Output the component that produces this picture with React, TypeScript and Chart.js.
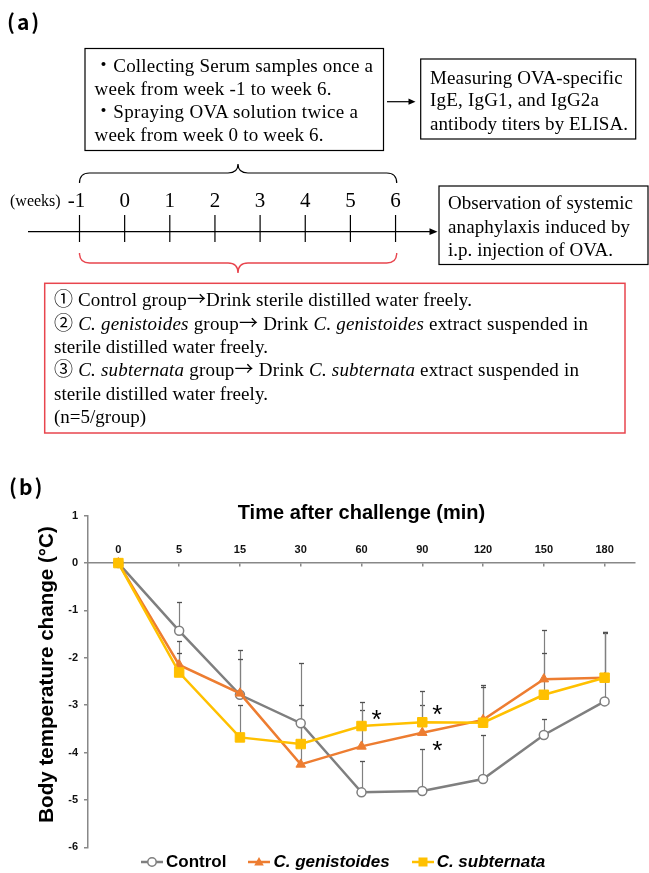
import React, { useEffect, useRef } from 'react';
import { Chart, registerables } from 'chart.js';

Chart.register(...registerables);

// ---------- data (panel b) ----------
const timeLabels = ['0', '5', '15', '30', '60', '90', '120', '150', '180'];
const seriesNames = ['Control', 'C. genistoides', 'C. subternata'];
const controlValues = [0, -1.43, -2.78, -3.38, -4.84, -4.81, -4.56, -3.63, -2.92];
const controlErrors = [0, 0.6, 0.95, 1.27, 0.67, 0.89, 0.94, 0.34, 1.44];
const genistoidesValues = [0, -2.15, -2.75, -4.25, -3.87, -3.58, -3.31, -2.45, -2.42];
const genistoidesErrors = [0, 0.51, 0.73, 1.25, 0.76, 0.59, 0.73, 1.03, 0.96];
const subternataValues = [0, -2.31, -3.68, -3.82, -3.44, -3.36, -3.37, -2.78, -2.42];
const subternataErrors = [0, 0.41, 0.68, 0.4, 0.51, 0.65, 0.75, 0.88, 0.97];
const asteriskIndex = [4, 5, 5];
const asteriskValue = [-3.2, -3.11, -3.86];
const xTitle = 'Time after challenge (min)';
const yTitle = 'Body temperature change (°C)';

// ---------- data (panel a) ----------
const weekLabels = ['-1', '0', '1', '2', '3', '4', '5', '6'];

const colors = ['#7F7F7F', '#ED7D31', '#FFC000'];
const SERIF = "'Liberation Serif', 'Times New Roman', serif";
const CJK = "'Noto Sans CJK JP', sans-serif";
const SANS = "'Liberation Sans', Arial, sans-serif";

const annotPlugin = {
  id: 'annot',
  beforeDatasetsDraw(chart: any) {
    const { ctx, scales } = chart;
    const x = scales.x;
    const y = scales.y;
    ctx.save();
    chart.data.datasets.forEach((ds: any) => {
      const errs: number[] = ds.errors;
      ds.data.forEach((v: number, i: number) => {
        const e = errs[i];
        if (!e) return;
        const px = Math.round(x.getPixelForValue(i)) + 0.5;
        const y0 = y.getPixelForValue(v);
        const y1 = Math.round(y.getPixelForValue(v + e)) + 0.5;
        ctx.strokeStyle = '#808080';
        ctx.lineWidth = 1.2;
        ctx.beginPath();
        ctx.moveTo(px, y0);
        ctx.lineTo(px, y1);
        ctx.stroke();
        ctx.strokeStyle = '#505050';
        ctx.lineWidth = 1.3;
        ctx.beginPath();
        ctx.moveTo(px - 2.5, y1);
        ctx.lineTo(px + 2.5, y1);
        ctx.stroke();
      });
    });
    ctx.restore();
  },
  afterDraw(chart: any) {
    const { ctx, chartArea, scales } = chart;
    const x = scales.x;
    const y = scales.y;
    ctx.save();
    ctx.fillStyle = '#000';
    // x axis title (sits on top of the plot, Excel-style)
    ctx.font = `bold 20px ${SANS}`;
    ctx.textAlign = 'center';
    ctx.textBaseline = 'middle';
    ctx.fillText(xTitle, (chartArea.left + chartArea.right) / 2, chartArea.top - 2);
    // y axis title
    ctx.save();
    ctx.translate(47, (chartArea.top + chartArea.bottom) / 2 - 7);
    ctx.rotate(-Math.PI / 2);
    ctx.font = `bold 20.6px ${SANS}`;
    ctx.fillText(yTitle, 0, 0);
    ctx.restore();
    // significance asterisks
    ctx.font = `26px ${SANS}`;
    ctx.textAlign = 'center';
    ctx.textBaseline = 'alphabetic';
    const m = ctx.measureText('*');
    const off = (m.actualBoundingBoxAscent - m.actualBoundingBoxDescent) / 2;
    asteriskIndex.forEach((idx, k) => {
      const px = x.getPixelForValue(idx) + 15;
      const py = y.getPixelForValue(asteriskValue[k]);
      ctx.fillText('*', px, py + off);
    });
    ctx.restore();
  },
};

function LegendIcon({ kind, color }: { kind: number; color: string }) {
  return (
    <svg width={22} height={12} style={{ display: 'block', marginRight: 3 }}>
      <line x1={0} y1={6} x2={22} y2={6} stroke={color} strokeWidth={2.5} />
      {kind === 0 && <circle cx={11} cy={6} r={4.2} fill="#fff" stroke={color} strokeWidth={1.5} />}
      {kind === 1 && <polygon points="11,1 15.8,9.5 6.2,9.5" fill={color} />}
      {kind === 2 && <rect x={6.5} y={1.5} width={9} height={9} fill={color} />}
    </svg>
  );
}

export default function App() {
  const canvasRef = useRef<HTMLCanvasElement>(null);

  useEffect(() => {
    Chart.defaults.font.family = SANS;
    const mk = (i: number, data: number[], errors: number[], style: string, radius: number, order: number) => ({
      label: seriesNames[i],
      data,
      errors,
      borderColor: colors[i],
      backgroundColor: i === 0 ? '#ffffff' : colors[i],
      pointBackgroundColor: i === 0 ? '#ffffff' : colors[i],
      pointBorderColor: colors[i],
      pointBorderWidth: i === 0 ? 1.5 : 1,
      borderWidth: 2.5,
      pointStyle: style,
      pointRadius: radius,
      tension: 0,
      order,
    });
    const chart = new Chart(canvasRef.current!, {
      type: 'line',
      data: {
        labels: timeLabels,
        datasets: [
          mk(0, controlValues, controlErrors, 'circle', 4.5, 3),
          mk(1, genistoidesValues, genistoidesErrors, 'triangle', 5.5, 2),
          mk(2, subternataValues, subternataErrors, 'rect', 6.7, 1),
        ] as any,
      },
      options: {
        responsive: false,
        animation: false,
        events: [],
        layout: { padding: { top: 45.7, bottom: 25.7, right: 14, left: 0 } },
        plugins: { legend: { display: false }, tooltip: { enabled: false }, title: { display: false } },
        scales: {
          x: {
            type: 'category',
            position: { y: 0 } as any,
            offset: true,
            ticks: {
              font: { size: 11, weight: 'bold' },
              color: '#111',
              padding: -23,
              maxRotation: 0,
              autoSkip: false,
            },
            grid: { drawOnChartArea: false, drawTicks: true, tickLength: 3, offset: false, color: '#888', lineWidth: 1.5 },
            border: { display: true, color: '#888', width: 1.5 },
          },
          y: {
            min: -6,
            max: 1,
            ticks: { stepSize: 1, font: { size: 11, weight: 'bold' }, color: '#111', padding: 6 },
            grid: { drawOnChartArea: false, drawTicks: true, tickLength: 4, color: '#888', lineWidth: 1.5 },
            border: { display: true, color: '#888', width: 1.5 },
            afterFit: (s: any) => {
              s.width = 88;
            },
          },
        },
      } as any,
      plugins: [annotPlugin],
    });
    return () => chart.destroy();
  }, []);

  const tickX = (i: number) => 79.5 + i * 45.15;
  const black = '#000';
  const red = '#E8454E';

  return (
    <div style={{ position: 'absolute', left: 0, top: 0, width: 649, height: 873, background: '#fff', overflow: 'hidden' }}>
      <canvas ref={canvasRef} width={649} height={403} style={{ position: 'absolute', left: 0, top: 470, width: 649, height: 403 }} />
      <svg width={649} height={500} style={{ position: 'absolute', left: 0, top: 0 }}>
        <text x={7} y={30} fontFamily={CJK} fontWeight="bold" fontSize={21} letterSpacing={2}>(a)</text>
        <text x={9} y={495} fontFamily={CJK} fontWeight="bold" fontSize={21} letterSpacing={2}>(b)</text>

        {/* box 1 */}
        <rect x={85} y={48.5} width={298.5} height={102} fill="#fff" stroke={black} strokeWidth={1.2} />
        <g fontFamily={SERIF} fontSize={19} fill={black}>
          <text x={94} y={72} textLength={279} lengthAdjust="spacing"><tspan fontFamily={CJK}>・</tspan>Collecting Serum samples once a</text>
          <text x={94.5} y={95} textLength={237} lengthAdjust="spacing">week from week -1 to week 6.</text>
          <text x={94} y={118} textLength={264} lengthAdjust="spacing"><tspan fontFamily={CJK}>・</tspan>Spraying OVA solution twice a</text>
          <text x={94.5} y={141} textLength={229} lengthAdjust="spacing">week from week 0 to week 6.</text>
        </g>

        {/* arrow to box 2 */}
        <line x1={387} y1={101.7} x2={410} y2={101.7} stroke={black} strokeWidth={1.2} />
        <polygon points="415.5,101.7 408.5,98.6 408.5,104.8" fill={black} />

        {/* box 2 */}
        <rect x={420.7} y={59} width={215} height={80} fill="#fff" stroke={black} strokeWidth={1.2} />
        <g fontFamily={SERIF} fontSize={19} fill={black}>
          <text x={430} y={83.5} textLength={192.7} lengthAdjust="spacing">Measuring OVA-specific</text>
          <text x={430} y={106} textLength={169} lengthAdjust="spacing">IgE, IgG1, and IgG2a</text>
          <text x={430} y={129.5} textLength={198} lengthAdjust="spacing">antibody titers by ELISA.</text>
        </g>

        {/* black brace */}
        <path
          d="M79.5,183 Q79.5,173 89.5,173 L228,173 Q238,173 238,164 Q238,173 248,173 L386.7,173 Q396.7,173 396.7,183"
          fill="none" stroke={black} strokeWidth={1.2}
        />

        {/* timeline */}
        <text x={10} y={206} fontFamily={SERIF} fontSize={16}>(weeks)</text>
        {weekLabels.map((w, i) => (
          <text key={w} x={tickX(i) - (i === 0 ? 3 : 0)} y={207} fontFamily={SERIF} fontSize={21} textAnchor="middle">{w}</text>
        ))}
        <line x1={28} y1={231.7} x2={431} y2={231.7} stroke={black} strokeWidth={1.3} />
        <polygon points="437.5,231.7 429.5,228.3 429.5,235.1" fill={black} />
        {weekLabels.map((w, i) => (
          <line key={'t' + w} x1={tickX(i)} y1={215} x2={tickX(i)} y2={242} stroke={black} strokeWidth={1.2} />
        ))}

        {/* red brace */}
        <path
          d="M79.5,253 Q79.5,263 89.5,263 L228,263 Q238,263 238,273 Q238,263 248,263 L386.7,263 Q396.7,263 396.7,253"
          fill="none" stroke={red} strokeWidth={1.4}
        />

        {/* box 3 */}
        <rect x={439} y={186} width={209} height={78.5} fill="#fff" stroke={black} strokeWidth={1.2} />
        <g fontFamily={SERIF} fontSize={19} fill={black}>
          <text x={448} y={209} textLength={185} lengthAdjust="spacing">Observation of systemic</text>
          <text x={448} y={232.7} textLength={182} lengthAdjust="spacing">anaphylaxis induced by</text>
          <text x={448} y={255.5} textLength={165} lengthAdjust="spacing">i.p. injection of OVA.</text>
        </g>

        {/* red box */}
        <rect x={44.7} y={283.3} width={580.3} height={149.7} fill="#fff" stroke={red} strokeWidth={1.5} />
        <g fontFamily={SERIF} fontSize={19} fill={black}>
          <text x={54} y={306} textLength={418} lengthAdjust="spacing">
            <tspan fontFamily={CJK}>①</tspan> Control group<tspan fontFamily={CJK}>→</tspan>Drink sterile distilled water freely.
          </text>
          <text x={54} y={329.5} textLength={534} lengthAdjust="spacing">
            <tspan fontFamily={CJK}>②</tspan> <tspan fontStyle="italic">C. genistoides</tspan> group<tspan fontFamily={CJK}>→</tspan> Drink <tspan fontStyle="italic">C. genistoides</tspan> extract suspended in
          </text>
          <text x={54} y={353} textLength={214} lengthAdjust="spacing">sterile distilled water freely.</text>
          <text x={54} y={376} textLength={525} lengthAdjust="spacing">
            <tspan fontFamily={CJK}>③</tspan> <tspan fontStyle="italic">C. subternata</tspan> group<tspan fontFamily={CJK}>→</tspan> Drink <tspan fontStyle="italic">C. subternata</tspan> extract suspended in
          </text>
          <text x={54} y={399.5} textLength={214} lengthAdjust="spacing">sterile distilled water freely.</text>
          <text x={54} y={422.5} textLength={92} lengthAdjust="spacing">(n=5/group)</text>
        </g>
      </svg>

      {/* legend */}
      <div
        style={{
          position: 'absolute', left: 141, top: 851, height: 22, display: 'flex', alignItems: 'center',
          fontFamily: SANS, fontWeight: 'bold', fontSize: 17, color: '#000', whiteSpace: 'nowrap',
        }}
      >
        {seriesNames.map((n, i) => (
          <div key={n} style={{ display: 'flex', alignItems: 'center', marginRight: i < 2 ? 22 : 0 }}>
            <LegendIcon kind={i} color={colors[i]} />
            <span style={{ fontStyle: i === 0 ? 'normal' : 'italic' }}>{n}</span>
          </div>
        ))}
      </div>
    </div>
  );
}
